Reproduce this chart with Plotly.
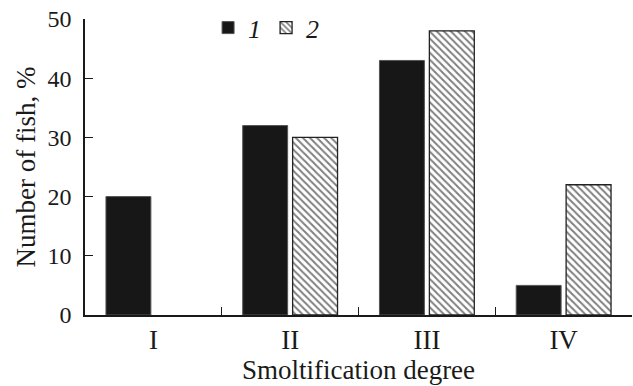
import plotly.graph_objects as go

categories = ["I", "II", "III", "IV"]
series1 = [20, 32, 43, 5]
series2 = [None, 30, 48, 22]
y_ticks = [0, 10, 20, 30, 40, 50]

FONT = "Liberation Serif"

fig = go.Figure()
fig.add_trace(go.Bar(
    x=categories, y=series1, name="<i>1</i>",
    marker=dict(color="#171717", line=dict(color="#555555", width=1)),
))
fig.add_trace(go.Bar(
    x=categories, y=series2, name="<i>2</i>",
    marker=dict(color="white", line=dict(color="#222222", width=1.3),
                pattern=dict(shape="\\", size=5, solidity=0.4,
                             fgcolor="#000000", bgcolor="white")),
))

titlefont = dict(family=FONT, size=27, color="#1a1a1a")

fig.update_layout(
    width=633, height=386,
    margin=dict(l=85, r=1, t=19, b=71),
    paper_bgcolor="white", plot_bgcolor="white",
    barmode="group", bargap=0.27, bargroupgap=0.1,
    font=dict(family=FONT, size=26, color="#1a1a1a"),
    showlegend=True,
    legend=dict(orientation="h", x=0.225, y=1.05, xanchor="left", yanchor="top",
                font=dict(family=FONT, size=26), bgcolor="rgba(0,0,0,0)",
                itemwidth=30, tracegroupgap=0),
    xaxis=dict(
        type="category", range=[-0.5, 3.5], tickson="boundaries",
        ticks="inside", ticklen=8, tickcolor="#1a1a1a", tickwidth=1,
        showline=True, linecolor="#1a1a1a", linewidth=1.5,
        showgrid=False, zeroline=False,
        tickfont=dict(family=FONT, size=27, color="#1a1a1a"),
        title=dict(text="Smoltification degree", standoff=2, font=titlefont),
    ),
    yaxis=dict(
        range=[0, 50], tickvals=y_ticks,
        ticks="inside", ticklen=8, tickcolor="#1a1a1a", tickwidth=1,
        showline=True, linecolor="#1a1a1a", linewidth=1.5,
        showgrid=False, zeroline=False, ticklabelstandoff=7,
        tickfont=dict(family=FONT, size=24, color="#1a1a1a"),
        title=dict(text="Number of fish, %", standoff=4, font=titlefont),
    ),
)

fig.write_html("out.html")
